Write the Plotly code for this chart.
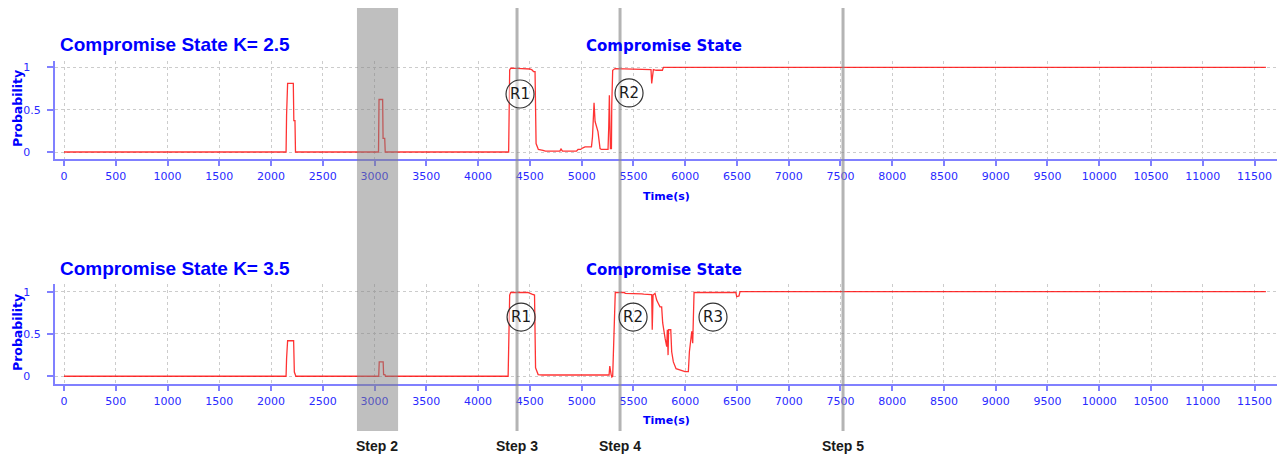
import plotly.graph_objects as go

W, H = 1281, 458

# ---------------- data ----------------
t_k25 = [0, 2145, 2150, 2160, 2215, 2220, 2231, 2236,
         3038, 3043, 3078, 3082, 3098, 3103,
         4295, 4305, 4315, 4380, 4420, 4500, 4520, 4535, 4550, 4560, 4582, 4627, 4650,
         4790, 4801, 4815, 4950, 4965, 4990, 5013, 5033, 5095, 5105, 5120, 5130, 5158,
         5178, 5190, 5255, 5262, 5268, 5278, 5288, 5291, 5300, 5323, 5419, 5497, 5600,
         5670, 5677, 5690, 5693, 5720, 5780, 5790, 11610]
p_k25 = [0, 0, 0.44, 0.81, 0.81, 0.37, 0.37, 0,
         0, 0.62, 0.62, 0.16, 0.16, 0,
         0, 0.97, 0.99, 0.99, 0.985, 0.98, 0.97, 0.95, 0.95, 0.10, 0.03, 0.02, 0.01,
         0.01, 0.035, 0.01, 0.01, 0.03, 0.03, 0.05, 0.06, 0.06, 0.18, 0.58, 0.36, 0.24,
         0.04, 0.03, 0.03, 0.30, 0.67, 0.04, 0.04, 0.55, 0.965, 0.985, 0.98, 0.977, 0.973,
         0.973, 0.81, 0.95, 0.973, 0.965, 0.965, 1.0, 1.0]

t_k35 = [0, 2145, 2150, 2160, 2218, 2225, 2240,
         3040, 3045, 3083, 3087, 3100, 3105,
         4290, 4305, 4315, 4480, 4500, 4520, 4545, 4555, 4580, 4620,
         5265, 5272, 5285, 5292, 5300, 5306, 5318, 5325, 5415, 5420, 5580, 5600,
         5670, 5677, 5682, 5690, 5709, 5725, 5741, 5757, 5773, 5783, 5806, 5822,
         5828, 5835, 5840, 5861, 5870, 5886, 5912, 5999, 6031, 6041, 6064, 6073,
         6086, 6490, 6498, 6520, 6530, 11610]
p_k35 = [0, 0, 0.21, 0.42, 0.42, 0.05, 0,
         0, 0.17, 0.17, 0.02, 0.02, 0,
         0, 0.96, 0.99, 0.99, 0.975, 0.97, 0.96, 0.10, 0.02, 0.015,
         0.015, 0.12, 0.02, -0.01, 0.0, 0.31, 0.96, 0.99, 0.99, 0.98, 0.975, 0.97,
         0.965, 0.965, 0.55, 0.96, 0.98, 0.90, 0.86, 0.82, 0.82, 0.63, 0.45, 0.35,
         0.55, 0.25, 0.55, 0.55, 0.29, 0.17, 0.09, 0.055, 0.055, 0.29, 0.53, 0.39,
         0.99, 0.99, 0.94, 0.95, 1.0, 1.0]

x_ticks = list(range(0, 11501, 500))
x_ticktext = [str(v) for v in x_ticks]
y_ticks = [0, 0.5, 1]
y_ticktext = ["0\u00a0\u00a0\u00a0", "0.5", "1\u00a0\u00a0\u00a0"]

band = (2830, 3227)
steps = [("Step 3", 4376), ("Step 4", 5371), ("Step 5", 7525)]
step2_label = ("Step 2", 3028)

markers_top = [("R1", 4405, 0.685), ("R2", 5458, 0.697)]
markers_bot = [("R1", 4415, 0.70), ("R2", 5497, 0.70), ("R3", 6269, 0.70)]

titles = ["Compromise State K= 2.5", "Compromise State K= 3.5"]

# ---------------- figure ----------------
BLUE_AX = "#8080ff"
BLUE_TXT = "#2a2aff"
fig = go.Figure()
fig.add_trace(go.Scatter(x=t_k25, y=p_k25, mode="lines",
                         line=dict(color="rgba(255,0,0,0.8)", width=1.3),
                         xaxis="x", yaxis="y", showlegend=False, hoverinfo="skip"))
fig.add_trace(go.Scatter(x=t_k35, y=p_k35, mode="lines",
                         line=dict(color="rgba(255,0,0,0.8)", width=1.3),
                         xaxis="x2", yaxis="y2", showlegend=False, hoverinfo="skip"))

xl, xr = 55 / W, 1277 / W
xr_range = [-87, 11717]

def xaxis(anchor):
    return dict(domain=[xl, xr], range=xr_range, anchor=anchor,
                tickvals=x_ticks, ticktext=x_ticktext, ticks="outside", ticklen=5,
                tickwidth=1.5, tickcolor=BLUE_AX, showline=True, linecolor=BLUE_AX,
                linewidth=2, showgrid=True, gridcolor="#cccccc", griddash="dot",
                gridwidth=1, zeroline=False,
                tickfont=dict(family="DejaVu Sans", size=11, color=BLUE_TXT))

def yaxis(anchor, dom, rng):
    return dict(domain=dom, range=rng, anchor=anchor,
                tickvals=y_ticks, ticktext=y_ticktext, ticks="outside", ticklen=6,
                tickwidth=1.5, tickcolor=BLUE_AX, showline=True, linecolor=BLUE_AX,
                linewidth=2, showgrid=True, gridcolor="#cccccc", griddash="dot",
                gridwidth=1, zeroline=False, ticklabelstandoff=4,
                tickfont=dict(family="DejaVu Sans", size=11, color=BLUE_TXT))

fig.update_layout(
    width=W, height=H, margin=dict(l=0, r=0, t=0, b=0),
    paper_bgcolor="white", plot_bgcolor="white",
    xaxis=xaxis("y"), yaxis=yaxis("x", [1 - 159.3 / H, 1 - 60.7 / H], [-0.086, 1.078]),
    xaxis2=xaxis("y2"), yaxis2=yaxis("x2", [1 - 384.3 / H, 1 - 284.3 / H], [-0.095, 1.087]),
)

shapes = []
y0p, y1p = 1 - 431 / H, 1 - 8 / H
shapes.append(dict(type="rect", xref="x", yref="paper", x0=band[0], x1=band[1],
                   y0=y0p, y1=y1p, fillcolor="rgba(128,128,128,0.5)",
                   line=dict(width=0), layer="above"))
for _, xv in steps:
    shapes.append(dict(type="line", xref="x", yref="paper", x0=xv, x1=xv,
                       y0=y0p, y1=y1p, line=dict(color="rgba(140,140,140,0.65)", width=3),
                       layer="above"))

annotations = []
for (xr_, yr_), marks in ((("x", "y"), markers_top), (("x2", "y2"), markers_bot)):
    for lbl, xv, yv in marks:
        shapes.append(dict(type="circle", xref=xr_, yref=yr_, xsizemode="pixel",
                           ysizemode="pixel", xanchor=xv, yanchor=yv,
                           x0=-14, x1=14, y0=-14, y1=14,
                           fillcolor="rgba(255,255,255,0.45)",
                           line=dict(color="#333333", width=1.2), layer="above"))
        annotations.append(dict(xref=xr_, yref=yr_, x=xv, y=yv, text=lbl, showarrow=False,
                                font=dict(family="DejaVu Sans", size=15, color="#1a1a1a"),
                                xanchor="center", yanchor="middle"))

for lbl, xv in [step2_label] + steps:
    annotations.append(dict(xref="x", yref="paper", x=xv, y=1 - 446 / H, text=lbl,
                            showarrow=False, xanchor="center", yanchor="middle",
                            font=dict(family="Liberation Sans", size=14, color="#1a1a1a",
                                      weight="bold")))

for title, yc, yc2, ylab, yt in ((titles[0], 44, 46, 109, 196), (titles[1], 268, 270, 333, 420)):
    annotations.append(dict(xref="paper", yref="paper", x=58 / W, y=1 - yc / H, text=title,
                            showarrow=False, xanchor="left", yanchor="middle",
                            font=dict(family="Liberation Sans", size=19, color="#0000ff",
                                      weight="bold")))
    annotations.append(dict(xref="paper", yref="paper", x=664 / W, y=1 - yc2 / H,
                            text="Compromise State", showarrow=False, xanchor="center",
                            yanchor="middle",
                            font=dict(family="DejaVu Sans", size=15, color="#0000ff",
                                      weight="bold")))
    annotations.append(dict(xref="paper", yref="paper", x=17 / W, y=1 - ylab / H,
                            text="Probability", showarrow=False, textangle=-90,
                            xanchor="center", yanchor="middle",
                            font=dict(family="DejaVu Sans", size=12.5, color="#0000ff",
                                      weight="bold")))
    annotations.append(dict(xref="paper", yref="paper", x=666 / W, y=1 - yt / H,
                            text="Time(s)", showarrow=False, xanchor="center",
                            yanchor="middle",
                            font=dict(family="DejaVu Sans", size=11, color="#0000ff",
                                      weight="bold")))

fig.update_layout(shapes=shapes, annotations=annotations)
fig.write_html("out.html")
